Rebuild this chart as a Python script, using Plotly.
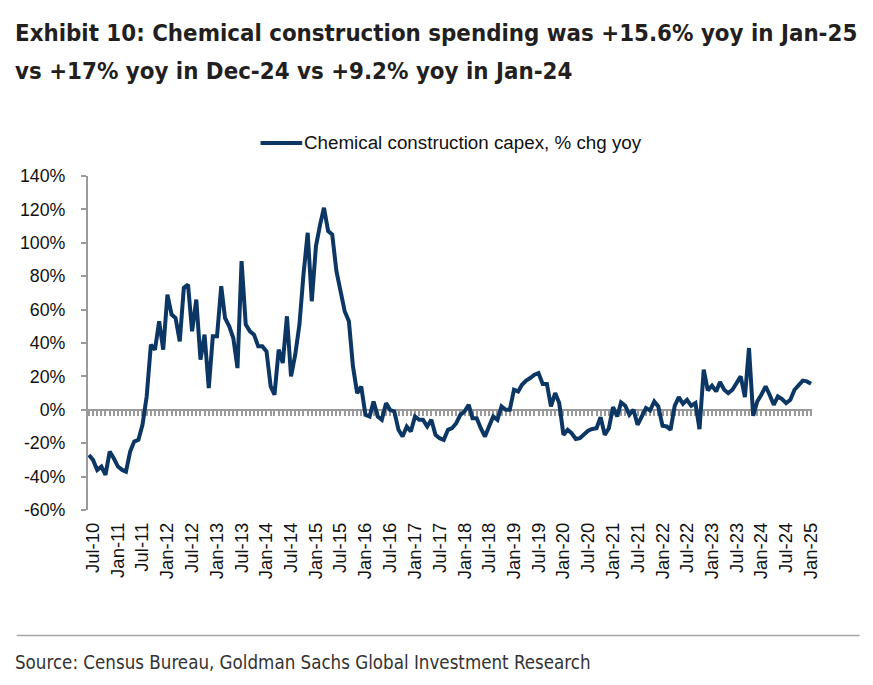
import pandas as pd
import plotly.graph_objects as go

# Chemical construction capex, % chg yoy, monthly from Jun-2010 to Jan-2025
start_month = "2010-06-01"
yoy_pct = [
    -27, -30, -36, -34, -39, -25, -29, -34, -36, -37,
    -25, -19, -18, -9, 8, 39, 36, 53, 36, 69,
    57, 55, 41, 73, 75, 47, 66, 30, 45, 13,
    44, 44, 74, 55, 50, 43, 25, 89, 51, 47,
    45, 38, 38, 35, 14, 9, 36, 28, 56, 20,
    33, 51, 81, 106, 65, 98, 111, 121, 107, 105,
    83, 71, 59, 53, 26, 10, 14, -3, -4, 5,
    -4, -6, 4, 0, -1, -12, -16, -10, -13, -4,
    -6, -6, -10, -6, -15, -17, -18, -12, -11, -8,
    -3, -1, 3, -5, -5, -11, -16, -10, -4, -6,
    2, 0, 0, 12, 11, 15, 17.5, 19, 21, 22,
    15.5, 15.5, 2, 10, 4, -15, -12, -14, -17.5, -17,
    -14.5, -12.5, -11.5, -11, -4.4, -15, -11, 1.6, -4, 4.4,
    2.4, -3, 0, -9, -4, 1, -0.4, 5, 2, -9.6,
    -10, -12, 2.4, 7.6, 3.6, 6, 2.4, 4, -11.6, 24,
    11.6, 14.4, 11, 16.7, 12, 10, 12, 16, 20, 7.6,
    37, -3.6, 5, 9.2, 14, 9, 3, 8, 6.4, 4,
    6, 12, 15, 17.5, 17, 15.6,
]
series_name = "Chemical construction capex, % chg yoy"
tick_labels = [
    "Jul-10", "Jan-11", "Jul-11", "Jan-12", "Jul-12", "Jan-13", "Jul-13",
    "Jan-14", "Jul-14", "Jan-15", "Jul-15", "Jan-16", "Jul-16", "Jan-17",
    "Jul-17", "Jan-18", "Jul-18", "Jan-19", "Jul-19", "Jan-20", "Jul-20",
    "Jan-21", "Jul-21", "Jan-22", "Jul-22", "Jan-23", "Jul-23", "Jan-24",
    "Jul-24", "Jan-25",
]
y_ticks = [-60, -40, -20, 0, 20, 40, 60, 80, 100, 120, 140]
title_lines = [
    "Exhibit 10: Chemical construction spending was +15.6% yoy in Jan-25",
    "vs +17% yoy in Dec-24 vs +9.2% yoy in Jan-24",
]
source_text = "Source: Census Bureau, Goldman Sachs Global Investment Research"

months = pd.date_range(start_month, periods=len(yoy_pct), freq="MS")
tick_dates = [pd.to_datetime(t, format="%b-%y") for t in tick_labels]

NAVY = "#0c3764"
AXIS = "#9a9a9a"
NARROW = "DejaVu Sans Condensed, Liberation Sans Narrow, Arial Narrow, sans-serif"
ARIAL = "Liberation Sans, Arial, Helvetica, sans-serif"

x_range = ["2010-05-25", "2025-01-08"]

# screen -> paper helpers (plot area on screen: x 82..812, y 176..510)
PL, PW, PB, PH = 82, 730, 510, 334
def px(x):
    return (x - PL) / PW
def py(y):
    return (PB - y) / PH

fig = go.Figure()
fig.add_trace(go.Scatter(x=months, y=yoy_pct, mode="lines", line=dict(width=0, color="rgba(0,0,0,0)"),
                         showlegend=False, hoverinfo="skip", xaxis="x", yaxis="y"))
fig.add_trace(go.Scatter(x=months, y=yoy_pct, mode="lines", name=series_name,
                         line=dict(color=NAVY, width=4), xaxis="x2", yaxis="y",
                         showlegend=False))

annotations = [
    dict(text=f"<b>{title_lines[0]}</b>", xref="paper", yref="paper", x=px(6), y=py(33),
         xanchor="left", yanchor="middle", showarrow=False,
         font=dict(family=NARROW, size=23.8, color="#231f20")),
    dict(text=f"<b>{title_lines[1]}</b>", xref="paper", yref="paper", x=px(6), y=py(71),
         xanchor="left", yanchor="middle", showarrow=False,
         font=dict(family=NARROW, size=23.8, color="#231f20")),
    dict(text=series_name, xref="paper", yref="paper", x=px(298), y=py(143),
         xanchor="left", yanchor="middle", showarrow=False,
         font=dict(family=ARIAL, size=18.8, color="#111111")),
    dict(text=source_text, xref="paper", yref="paper", x=px(6), y=py(662),
         xanchor="left", yanchor="middle", showarrow=False,
         font=dict(family=NARROW, size=18.6, color="#333333")),
]

shapes = [
    dict(type="line", xref="paper", yref="paper", x0=px(10), x1=px(860),
         y0=py(635.5), y1=py(635.5), line=dict(color="#a6a6a6", width=1.5)),
    dict(type="line", xref="paper", yref="paper", x0=px(256), x1=px(298),
         y0=py(143), y1=py(143), line=dict(color=NAVY, width=4)),
]

fig.update_layout(
    width=873, height=685,
    paper_bgcolor="white", plot_bgcolor="white",
    margin=dict(l=PL - 8, r=873 - (PL - 8) - PW, t=176 - 8, b=685 - (176 - 8) - PH),
    showlegend=False,
    xaxis=dict(
        type="date", range=x_range,
        tickmode="array", tickvals=tick_dates, ticktext=tick_labels,
        tickangle=-90, ticks="", showline=False, showgrid=False, zeroline=False,
        tickfont=dict(family=ARIAL, size=18.5, color="#111111"),
        ticklabelstandoff=8,
    ),
    xaxis2=dict(
        type="date", range=x_range, overlaying="x", anchor="free", position=0.3,
        side="bottom", tickmode="linear", tick0=start_month, dtick="M1",
        ticks="outside", ticklen=5, tickwidth=1.5, tickcolor=AXIS,
        showline=True, linecolor=AXIS, linewidth=2, showticklabels=False,
        showgrid=False, zeroline=False, layer="below traces",
    ),
    yaxis=dict(
        range=[-60, 140], tickmode="array", tickvals=y_ticks,
        ticktext=[f"{v}%" for v in y_ticks],
        ticks="outside", ticklen=5, tickwidth=1.5, tickcolor=AXIS,
        showline=True, linecolor=AXIS, linewidth=2,
        showgrid=False, zeroline=False, ticklabelstandoff=12,
        tickfont=dict(family=ARIAL, size=17.8, color="#111111"),
    ),
    annotations=annotations,
    shapes=shapes,
)

fig.write_html("out.html")
